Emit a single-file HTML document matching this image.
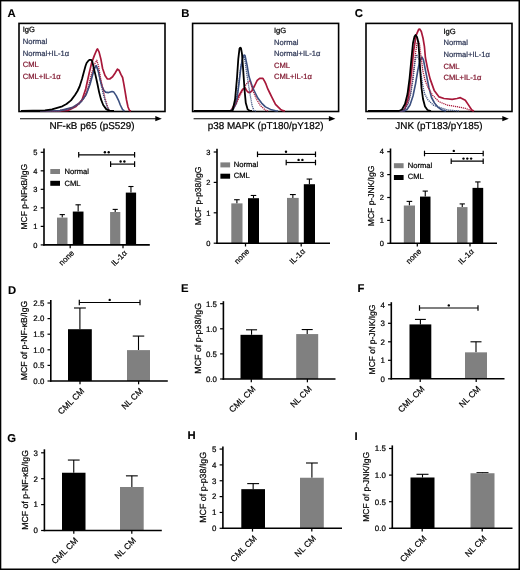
<!DOCTYPE html>
<html><head><meta charset="utf-8"><style>
html,body{margin:0;padding:0;background:#fff;}
svg{display:block;font-family:"Liberation Sans", sans-serif;filter:blur(0.3px);text-rendering:geometricPrecision;}
</style></head><body>
<svg width="520" height="570" viewBox="0 0 520 570">
<rect width="520" height="570" fill="#fff"/>
<rect x="0" y="0" width="1.3" height="570" fill="#000"/>
<rect x="0" y="0" width="520" height="1.4" fill="#000"/>
<rect x="518.5" y="0" width="1.5" height="570" fill="#000"/>
<rect x="0" y="568.5" width="520" height="1.5" fill="#000"/>
<text x="7.6" y="16.8" font-size="11.3" text-anchor="start" font-weight="bold" fill="#000" stroke="#000" stroke-width="0.1" >A</text>
<text x="181.3" y="16.7" font-size="11.3" text-anchor="start" font-weight="bold" fill="#000" stroke="#000" stroke-width="0.1" >B</text>
<text x="354.8" y="16.7" font-size="11.3" text-anchor="start" font-weight="bold" fill="#000" stroke="#000" stroke-width="0.1" >C</text>
<text x="7.9" y="294.0" font-size="11.3" text-anchor="start" font-weight="bold" fill="#000" stroke="#000" stroke-width="0.1" >D</text>
<text x="181.1" y="292.0" font-size="11.3" text-anchor="start" font-weight="bold" fill="#000" stroke="#000" stroke-width="0.1" >E</text>
<text x="357.6" y="292.0" font-size="11.3" text-anchor="start" font-weight="bold" fill="#000" stroke="#000" stroke-width="0.1" >F</text>
<text x="7.3" y="441.7" font-size="11.3" text-anchor="start" font-weight="bold" fill="#000" stroke="#000" stroke-width="0.1" >G</text>
<text x="187.4" y="439.2" font-size="11.3" text-anchor="start" font-weight="bold" fill="#000" stroke="#000" stroke-width="0.1" >H</text>
<text x="354.6" y="439.5" font-size="11.3" text-anchor="start" font-weight="bold" fill="#000" stroke="#000" stroke-width="0.1" >I</text>
<rect x="19.0" y="23.4" width="146.0" height="88.1" fill="none" stroke="#000" stroke-width="1.6"/>
<path d="M40.0,111.0 L60.0,110.8 L68.0,110.4 L76.0,106.5 L82.0,100.0 L85.7,89.0 L89.1,73.5 L91.7,62.8 L94.3,55.6 L96.9,49.5 L97.6,49.0 L99.1,52.1 L100.9,59.1 L102.6,68.5 L105.0,75.6 L107.4,79.0 L109.7,79.0 L112.6,76.8 L115.0,73.2 L117.4,69.1 L119.1,70.3 L120.9,74.4 L122.6,77.5 L123.8,83.8 L125.0,90.9 L126.5,100.0 L128.0,107.0 L129.5,110.5 L131.0,111.0" fill="none" stroke="#a8183a" stroke-width="1.7" stroke-linejoin="round"/>
<path d="M40.0,111.0 L60.0,110.6 L72.0,107.6 L80.0,102.6 L86.0,95.0 L90.0,84.5 L93.0,73.5 L95.0,67.5 L96.2,65.6 L98.5,72.0 L100.3,80.3 L102.1,86.2 L103.8,90.3 L105.6,92.1 L108.5,92.6 L112.1,91.5 L113.8,92.1 L116.2,95.6 L118.5,100.3 L120.3,105.0 L122.6,109.7 L124.5,111.0" fill="none" stroke="#3b4f7f" stroke-width="1.6" stroke-linejoin="round"/>
<path d="M50.0,111.0 L64.0,110.3 L72.0,107.8 L80.0,103.0 L85.0,96.0 L88.5,86.0 L91.5,74.0 L94.0,65.0 L96.8,60.3 L98.5,66.0 L100.0,75.0 L101.5,82.6 L103.2,90.0 L105.0,97.9 L107.4,106.2 L109.1,110.3 L111.0,111.0" fill="none" stroke="#a8183a" stroke-width="1.3" stroke-linejoin="round" stroke-dasharray="1.2,0.8"/>
<path d="M50.0,111.0 L64.0,110.3 L72.0,108.0 L80.0,103.5 L85.0,97.0 L88.5,88.0 L91.5,77.0 L94.0,68.5 L96.2,65.3 L97.8,69.0 L99.5,77.0 L101.2,85.0 L103.0,93.0 L105.0,100.5 L107.0,106.5 L109.0,110.3 L111.0,111.0" fill="none" stroke="#3b4f7f" stroke-width="1.3" stroke-linejoin="round" stroke-dasharray="1.2,0.8"/>
<path d="M21.0,111.0 L45.0,110.4 L52.0,109.3 L58.0,107.6 L62.3,106.3 L66.5,104.0 L71.0,100.4 L75.0,95.0 L77.5,91.0 L79.6,86.5 L82.0,79.0 L84.0,71.5 L85.5,66.0 L86.6,63.0 L88.0,61.2 L89.4,59.9 L91.1,59.8 L92.3,61.5 L93.8,68.3 L95.6,75.6 L97.4,83.8 L99.1,92.1 L100.9,99.1 L103.2,105.0 L106.2,109.1 L109.7,110.9 L114.0,111.0" fill="none" stroke="#000" stroke-width="1.8" stroke-linejoin="round"/>
<text x="22.7" y="32.4" font-size="7.6" text-anchor="start" font-weight="normal" fill="#000" stroke="#000" stroke-width="0.22" >IgG</text>
<text x="22.7" y="44.0" font-size="7.6" text-anchor="start" font-weight="normal" fill="#2e3756" stroke="#2e3756" stroke-width="0.22" >Normal</text>
<text x="22.7" y="55.6" font-size="7.6" text-anchor="start" font-weight="normal" fill="#2e3756" stroke="#2e3756" stroke-width="0.22" >Normal+IL-1α</text>
<text x="22.7" y="67.2" font-size="7.6" text-anchor="start" font-weight="normal" fill="#801830" stroke="#801830" stroke-width="0.22" >CML</text>
<text x="22.7" y="78.8" font-size="7.6" text-anchor="start" font-weight="normal" fill="#801830" stroke="#801830" stroke-width="0.22" >CML+IL-1α</text>
<line x1="20.0" y1="118.7" x2="159.0" y2="118.7" stroke="#000" stroke-width="1.1"/>
<path d="M155.3,116.10000000000001 L161.8,118.7 L155.3,121.3 Z" fill="#000"/>
<text x="92.0" y="128.8" font-size="9.9" text-anchor="middle" font-weight="normal" fill="#000" stroke="#000" stroke-width="0.22" >NF-κB p65 (pS529)</text>
<rect x="192.6" y="23.4" width="146.0" height="88.1" fill="none" stroke="#000" stroke-width="1.6"/>
<path d="M194.0,111.0 L229.0,111.0 L231.3,110.5 L235.1,103.1 L238.9,95.6 L242.7,89.2 L245.2,88.0 L246.5,90.5 L248.4,92.4 L250.3,92.4 L252.1,90.5 L254.7,85.5 L257.2,80.4 L259.7,78.3 L262.9,78.3 L264.8,81.7 L266.0,84.2 L267.9,89.2 L269.8,93.0 L271.7,96.8 L273.6,100.6 L275.5,104.4 L278.0,106.9 L280.6,109.4 L283.1,110.7 L285.0,111.0" fill="none" stroke="#a8183a" stroke-width="1.7" stroke-linejoin="round"/>
<path d="M194.0,111.0 L230.0,111.0 L233.0,109.5 L236.4,103.1 L238.9,84.2 L240.8,67.8 L242.7,57.7 L244.0,55.0 L245.0,55.5 L247.1,65.3 L249.0,76.6 L250.3,80.4 L252.8,88.0 L255.3,93.0 L257.8,98.1 L261.6,103.1 L265.4,106.9 L270.5,109.4 L275.5,110.7 L278.0,111.0" fill="none" stroke="#3b4f7f" stroke-width="1.6" stroke-linejoin="round"/>
<path d="M194.0,111.0 L230.0,111.0 L233.0,109.0 L236.0,104.0 L239.0,97.5 L242.0,91.5 L245.0,86.0 L247.5,82.5 L249.6,81.0 L251.2,85.0 L252.8,90.5 L256.6,99.3 L260.4,105.7 L265.4,110.1 L268.0,111.0" fill="none" stroke="#a8183a" stroke-width="1.3" stroke-linejoin="round" stroke-dasharray="1.2,0.8"/>
<path d="M194.0,111.0 L230.0,111.0 L233.0,108.5 L236.0,101.0 L238.0,90.0 L240.0,73.0 L242.0,60.0 L243.9,56.4 L245.2,62.0 L246.5,71.6 L248.4,84.2 L250.3,95.6 L252.1,105.7 L254.0,110.7 L256.0,111.0" fill="none" stroke="#3b4f7f" stroke-width="1.3" stroke-linejoin="round" stroke-dasharray="1.2,0.8"/>
<path d="M194.0,111.0 L230.0,111.0 L232.6,110.5 L235.1,99.3 L237.0,77.9 L238.3,58.9 L239.5,48.6 L240.3,47.6 L241.0,48.2 L242.0,53.9 L243.3,71.6 L244.6,90.5 L245.8,103.1 L247.7,109.4 L249.6,110.8 L252.0,111.0" fill="none" stroke="#000" stroke-width="1.8" stroke-linejoin="round"/>
<text x="274.0" y="33.0" font-size="7.6" text-anchor="start" font-weight="normal" fill="#000" stroke="#000" stroke-width="0.22" >IgG</text>
<text x="274.0" y="44.6" font-size="7.6" text-anchor="start" font-weight="normal" fill="#2e3756" stroke="#2e3756" stroke-width="0.22" >Normal</text>
<text x="274.0" y="56.2" font-size="7.6" text-anchor="start" font-weight="normal" fill="#2e3756" stroke="#2e3756" stroke-width="0.22" >Normal+IL-1α</text>
<text x="274.0" y="67.8" font-size="7.6" text-anchor="start" font-weight="normal" fill="#801830" stroke="#801830" stroke-width="0.22" >CML</text>
<text x="274.0" y="79.4" font-size="7.6" text-anchor="start" font-weight="normal" fill="#801830" stroke="#801830" stroke-width="0.22" >CML+IL-1α</text>
<line x1="193.6" y1="118.7" x2="332.6" y2="118.7" stroke="#000" stroke-width="1.1"/>
<path d="M328.90000000000003,116.10000000000001 L335.40000000000003,118.7 L328.90000000000003,121.3 Z" fill="#000"/>
<text x="265.6" y="128.8" font-size="9.9" text-anchor="middle" font-weight="normal" fill="#000" stroke="#000" stroke-width="0.22" >p38 MAPK (pT180/pY182)</text>
<rect x="366.0" y="23.4" width="146.0" height="88.1" fill="none" stroke="#000" stroke-width="1.6"/>
<path d="M368.0,111.0 L401.0,111.0 L403.0,110.3 L404.8,109.0 L408.1,98.5 L411.3,74.0 L413.8,49.5 L416.3,34.8 L418.7,29.3 L419.7,29.0 L421.3,31.5 L423.0,38.0 L424.4,46.3 L425.4,57.7 L427.7,69.1 L430.1,78.9 L434.2,90.4 L439.1,96.9 L444.0,98.5 L452.2,99.4 L457.0,98.5 L460.4,97.7 L465.3,100.2 L468.6,105.1 L471.8,110.0 L474.0,111.0" fill="none" stroke="#a8183a" stroke-width="1.7" stroke-linejoin="round"/>
<path d="M368.0,111.0 L404.0,111.0 L407.0,109.5 L410.0,105.0 L413.0,96.0 L415.5,84.0 L417.7,71.0 L419.5,62.0 L421.8,57.0 L423.5,60.0 L425.0,68.0 L427.0,78.0 L429.0,88.0 L431.5,97.5 L434.5,103.0 L438.5,107.7 L442.0,110.0 L446.0,111.0" fill="none" stroke="#3b4f7f" stroke-width="1.6" stroke-linejoin="round"/>
<path d="M368.0,111.0 L402.0,111.0 L405.0,109.0 L408.0,103.5 L410.5,93.0 L413.0,76.0 L415.3,55.0 L417.0,43.0 L418.2,41.0 L419.5,44.0 L421.0,56.0 L422.8,70.7 L425.0,80.0 L427.7,87.0 L432.6,95.2 L439.1,101.8 L447.3,105.1 L457.1,106.7 L465.3,108.3 L471.8,110.8 L474.0,111.0" fill="none" stroke="#a8183a" stroke-width="1.3" stroke-linejoin="round" stroke-dasharray="1.2,0.8"/>
<path d="M368.0,111.0 L402.0,111.0 L405.0,109.0 L408.0,104.0 L410.5,95.0 L413.0,80.0 L415.0,62.0 L416.5,54.6 L418.5,58.0 L420.5,70.0 L422.5,84.0 L424.6,93.8 L428.0,100.0 L433.8,105.4 L440.0,107.5 L447.7,110.0 L459.0,111.0" fill="none" stroke="#3b4f7f" stroke-width="1.3" stroke-linejoin="round" stroke-dasharray="1.2,0.8"/>
<path d="M368.0,111.0 L399.0,111.0 L402.0,109.5 L405.0,104.0 L407.5,94.0 L409.6,78.0 L411.5,58.0 L413.0,43.0 L414.5,36.5 L415.6,35.0 L417.0,37.0 L418.3,42.0 L419.3,55.0 L420.3,72.0 L421.5,88.0 L423.0,99.0 L425.0,106.5 L427.5,110.0 L431.0,111.0" fill="none" stroke="#000" stroke-width="1.8" stroke-linejoin="round"/>
<text x="443.5" y="33.8" font-size="7.6" text-anchor="start" font-weight="normal" fill="#000" stroke="#000" stroke-width="0.22" >IgG</text>
<text x="443.5" y="45.4" font-size="7.6" text-anchor="start" font-weight="normal" fill="#2e3756" stroke="#2e3756" stroke-width="0.22" >Normal</text>
<text x="443.5" y="57.0" font-size="7.6" text-anchor="start" font-weight="normal" fill="#2e3756" stroke="#2e3756" stroke-width="0.22" >Normal+IL-1α</text>
<text x="443.5" y="68.6" font-size="7.6" text-anchor="start" font-weight="normal" fill="#801830" stroke="#801830" stroke-width="0.22" >CML</text>
<text x="443.5" y="80.2" font-size="7.6" text-anchor="start" font-weight="normal" fill="#801830" stroke="#801830" stroke-width="0.22" >CML+IL-1α</text>
<line x1="367.0" y1="118.7" x2="506.0" y2="118.7" stroke="#000" stroke-width="1.1"/>
<path d="M502.3,116.10000000000001 L508.8,118.7 L502.3,121.3 Z" fill="#000"/>
<text x="439.0" y="128.8" font-size="9.9" text-anchor="middle" font-weight="normal" fill="#000" stroke="#000" stroke-width="0.22" >JNK (pT183/pY185)</text>
<line x1="62.25" y1="217.60152" x2="62.25" y2="214.60128" stroke="#000" stroke-width="1.1"/>
<line x1="59.625" y1="214.60128" x2="64.875" y2="214.60128" stroke="#000" stroke-width="1.1"/>
<rect x="57.0" y="217.60152" width="10.5" height="27.298480000000012" fill="#808080"/>
<line x1="78.15" y1="211.56400000000002" x2="78.15" y2="204.8042" stroke="#000" stroke-width="1.1"/>
<line x1="75.47500000000001" y1="204.8042" x2="80.825" y2="204.8042" stroke="#000" stroke-width="1.1"/>
<rect x="72.8" y="211.56400000000002" width="10.700000000000003" height="33.335999999999984" fill="#000"/>
<line x1="115.19999999999999" y1="212.00848000000002" x2="115.19999999999999" y2="209.39716" stroke="#000" stroke-width="1.1"/>
<line x1="112.64999999999999" y1="209.39716" x2="117.74999999999999" y2="209.39716" stroke="#000" stroke-width="1.1"/>
<rect x="110.1" y="212.00848000000002" width="10.200000000000003" height="32.891519999999986" fill="#808080"/>
<line x1="130.95" y1="192.59952" x2="130.95" y2="186.50644" stroke="#000" stroke-width="1.1"/>
<line x1="128.375" y1="186.50644" x2="133.52499999999998" y2="186.50644" stroke="#000" stroke-width="1.1"/>
<rect x="125.8" y="192.59952" width="10.299999999999997" height="52.30047999999999" fill="#000"/>
<line x1="44.0" y1="148.5" x2="44.0" y2="245.6" stroke="#000" stroke-width="1.6"/>
<line x1="43.2" y1="244.9" x2="149.8" y2="244.9" stroke="#000" stroke-width="1.6"/>
<line x1="40.7" y1="244.9" x2="44.0" y2="244.9" stroke="#000" stroke-width="1.2"/>
<text x="37.5" y="247.6" font-size="7.5" text-anchor="end" font-weight="normal" fill="#000" stroke="#000" stroke-width="0.22" >0</text>
<line x1="40.7" y1="226.38" x2="44.0" y2="226.38" stroke="#000" stroke-width="1.2"/>
<text x="37.5" y="229.08" font-size="7.5" text-anchor="end" font-weight="normal" fill="#000" stroke="#000" stroke-width="0.22" >1</text>
<line x1="40.7" y1="207.86" x2="44.0" y2="207.86" stroke="#000" stroke-width="1.2"/>
<text x="37.5" y="210.56" font-size="7.5" text-anchor="end" font-weight="normal" fill="#000" stroke="#000" stroke-width="0.22" >2</text>
<line x1="40.7" y1="189.34" x2="44.0" y2="189.34" stroke="#000" stroke-width="1.2"/>
<text x="37.5" y="192.04" font-size="7.5" text-anchor="end" font-weight="normal" fill="#000" stroke="#000" stroke-width="0.22" >3</text>
<line x1="40.7" y1="170.82" x2="44.0" y2="170.82" stroke="#000" stroke-width="1.2"/>
<text x="37.5" y="173.52" font-size="7.5" text-anchor="end" font-weight="normal" fill="#000" stroke="#000" stroke-width="0.22" >4</text>
<line x1="40.7" y1="152.3" x2="44.0" y2="152.3" stroke="#000" stroke-width="1.2"/>
<text x="37.5" y="155.0" font-size="7.5" text-anchor="end" font-weight="normal" fill="#000" stroke="#000" stroke-width="0.22" >5</text>
<line x1="70.2" y1="244.9" x2="70.2" y2="248.20000000000002" stroke="#000" stroke-width="1.25"/>
<line x1="123.0" y1="244.9" x2="123.0" y2="248.20000000000002" stroke="#000" stroke-width="1.25"/>
<text x="74.7" y="253.5" font-size="8.0" text-anchor="end" stroke="#000" stroke-width="0.22" transform="rotate(-45 74.7 253.5)">none</text>
<text x="127.5" y="253.5" font-size="8.0" text-anchor="end" stroke="#000" stroke-width="0.22" transform="rotate(-45 127.5 253.5)">IL-1α</text>
<text x="27.0" y="196.7" font-size="8.5" text-anchor="middle" stroke="#000" stroke-width="0.22" transform="rotate(-90 27.0 196.7)">MCF p-NFκB/IgG</text>
<line x1="78.7" y1="154.8" x2="134.6" y2="154.8" stroke="#000" stroke-width="1.2"/>
<line x1="78.7" y1="152.0" x2="78.7" y2="157.60000000000002" stroke="#000" stroke-width="1.2"/>
<line x1="134.6" y1="152.0" x2="134.6" y2="157.60000000000002" stroke="#000" stroke-width="1.2"/>
<circle cx="104.90" cy="152.20" r="1.2" fill="#000"/>
<circle cx="108.70" cy="152.20" r="1.2" fill="#000"/>
<line x1="110.6" y1="164.1" x2="134.6" y2="164.1" stroke="#000" stroke-width="1.2"/>
<line x1="110.6" y1="161.29999999999998" x2="110.6" y2="166.9" stroke="#000" stroke-width="1.2"/>
<line x1="134.6" y1="161.29999999999998" x2="134.6" y2="166.9" stroke="#000" stroke-width="1.2"/>
<circle cx="120.60" cy="161.50" r="1.2" fill="#000"/>
<circle cx="124.40" cy="161.50" r="1.2" fill="#000"/>
<rect x="50.3" y="169.0" width="9.7" height="5.0" fill="#808080"/>
<rect x="50.3" y="180.8" width="9.7" height="5.0" fill="#000"/>
<text x="64.5" y="174.2" font-size="7.6" text-anchor="start" font-weight="normal" fill="#000" stroke="#000" stroke-width="0.22" >Normal</text>
<text x="64.5" y="186.0" font-size="7.6" text-anchor="start" font-weight="normal" fill="#000" stroke="#000" stroke-width="0.22" >CML</text>
<line x1="236.9" y1="203.37599999999998" x2="236.9" y2="199.728" stroke="#000" stroke-width="1.1"/>
<line x1="234.10000000000002" y1="199.728" x2="239.7" y2="199.728" stroke="#000" stroke-width="1.1"/>
<rect x="231.3" y="203.37599999999998" width="11.199999999999989" height="39.82400000000001" fill="#808080"/>
<line x1="253.5" y1="198.208" x2="253.5" y2="195.47199999999998" stroke="#000" stroke-width="1.1"/>
<line x1="250.75" y1="195.47199999999998" x2="256.25" y2="195.47199999999998" stroke="#000" stroke-width="1.1"/>
<rect x="248.0" y="198.208" width="11.0" height="44.99199999999999" fill="#000"/>
<line x1="292.85" y1="197.904" x2="292.85" y2="194.56" stroke="#000" stroke-width="1.1"/>
<line x1="289.925" y1="194.56" x2="295.77500000000003" y2="194.56" stroke="#000" stroke-width="1.1"/>
<rect x="287.0" y="197.904" width="11.699999999999989" height="45.29599999999999" fill="#808080"/>
<line x1="309.4" y1="184.224" x2="309.4" y2="179.05599999999998" stroke="#000" stroke-width="1.1"/>
<line x1="306.59999999999997" y1="179.05599999999998" x2="312.2" y2="179.05599999999998" stroke="#000" stroke-width="1.1"/>
<rect x="303.8" y="184.224" width="11.199999999999989" height="58.976" fill="#000"/>
<line x1="217.0" y1="148.7" x2="217.0" y2="243.89999999999998" stroke="#000" stroke-width="1.6"/>
<line x1="216.2" y1="243.2" x2="330.0" y2="243.2" stroke="#000" stroke-width="1.6"/>
<line x1="213.7" y1="243.2" x2="217.0" y2="243.2" stroke="#000" stroke-width="1.2"/>
<text x="210.5" y="245.9" font-size="7.5" text-anchor="end" font-weight="normal" fill="#000" stroke="#000" stroke-width="0.22" >0</text>
<line x1="213.7" y1="212.79999999999998" x2="217.0" y2="212.79999999999998" stroke="#000" stroke-width="1.2"/>
<text x="210.5" y="215.5" font-size="7.5" text-anchor="end" font-weight="normal" fill="#000" stroke="#000" stroke-width="0.22" >1</text>
<line x1="213.7" y1="182.39999999999998" x2="217.0" y2="182.39999999999998" stroke="#000" stroke-width="1.2"/>
<text x="210.5" y="185.1" font-size="7.5" text-anchor="end" font-weight="normal" fill="#000" stroke="#000" stroke-width="0.22" >2</text>
<line x1="213.7" y1="152.0" x2="217.0" y2="152.0" stroke="#000" stroke-width="1.2"/>
<text x="210.5" y="154.7" font-size="7.5" text-anchor="end" font-weight="normal" fill="#000" stroke="#000" stroke-width="0.22" >3</text>
<line x1="245.5" y1="243.2" x2="245.5" y2="246.5" stroke="#000" stroke-width="1.25"/>
<line x1="301.2" y1="243.2" x2="301.2" y2="246.5" stroke="#000" stroke-width="1.25"/>
<text x="250.0" y="251.8" font-size="8.0" text-anchor="end" stroke="#000" stroke-width="0.22" transform="rotate(-45 250.0 251.8)">none</text>
<text x="305.7" y="251.8" font-size="8.0" text-anchor="end" stroke="#000" stroke-width="0.22" transform="rotate(-45 305.7 251.8)">IL-1α</text>
<text x="200.6" y="195.9" font-size="8.5" text-anchor="middle" stroke="#000" stroke-width="0.22" transform="rotate(-90 200.6 195.9)">MCF p-p38/IgG</text>
<line x1="257.5" y1="154.3" x2="315.5" y2="154.3" stroke="#000" stroke-width="1.2"/>
<line x1="257.5" y1="151.5" x2="257.5" y2="157.10000000000002" stroke="#000" stroke-width="1.2"/>
<line x1="315.5" y1="151.5" x2="315.5" y2="157.10000000000002" stroke="#000" stroke-width="1.2"/>
<circle cx="286.00" cy="151.70" r="1.2" fill="#000"/>
<line x1="286.2" y1="162.5" x2="315.5" y2="162.5" stroke="#000" stroke-width="1.2"/>
<line x1="286.2" y1="159.7" x2="286.2" y2="165.3" stroke="#000" stroke-width="1.2"/>
<line x1="315.5" y1="159.7" x2="315.5" y2="165.3" stroke="#000" stroke-width="1.2"/>
<circle cx="298.60" cy="159.90" r="1.2" fill="#000"/>
<circle cx="302.40" cy="159.90" r="1.2" fill="#000"/>
<rect x="220.4" y="162.4" width="9.7" height="5.0" fill="#808080"/>
<rect x="220.4" y="173.7" width="9.7" height="5.0" fill="#000"/>
<text x="233.70000000000002" y="167.1" font-size="7.6" text-anchor="start" font-weight="normal" fill="#000" stroke="#000" stroke-width="0.22" >Normal</text>
<text x="233.70000000000002" y="178.39999999999998" font-size="7.6" text-anchor="start" font-weight="normal" fill="#000" stroke="#000" stroke-width="0.22" >CML</text>
<line x1="409.4" y1="205.51500000000001" x2="409.4" y2="201.39300000000003" stroke="#000" stroke-width="1.1"/>
<line x1="406.59999999999997" y1="201.39300000000003" x2="412.2" y2="201.39300000000003" stroke="#000" stroke-width="1.1"/>
<rect x="403.8" y="205.51500000000001" width="11.199999999999989" height="37.785" fill="#808080"/>
<line x1="425.25" y1="196.584" x2="425.25" y2="191.08800000000002" stroke="#000" stroke-width="1.1"/>
<line x1="422.625" y1="191.08800000000002" x2="427.875" y2="191.08800000000002" stroke="#000" stroke-width="1.1"/>
<rect x="420.0" y="196.584" width="10.5" height="46.71600000000001" fill="#000"/>
<line x1="462.25" y1="207.118" x2="462.25" y2="203.912" stroke="#000" stroke-width="1.1"/>
<line x1="459.625" y1="203.912" x2="464.875" y2="203.912" stroke="#000" stroke-width="1.1"/>
<rect x="457.0" y="207.118" width="10.5" height="36.182000000000016" fill="#808080"/>
<line x1="477.85" y1="187.882" x2="477.85" y2="181.928" stroke="#000" stroke-width="1.1"/>
<line x1="475.175" y1="181.928" x2="480.52500000000003" y2="181.928" stroke="#000" stroke-width="1.1"/>
<rect x="472.5" y="187.882" width="10.699999999999989" height="55.418000000000006" fill="#000"/>
<line x1="390.5" y1="148.5" x2="390.5" y2="244.0" stroke="#000" stroke-width="1.6"/>
<line x1="389.7" y1="243.3" x2="497.0" y2="243.3" stroke="#000" stroke-width="1.6"/>
<line x1="387.2" y1="243.3" x2="390.5" y2="243.3" stroke="#000" stroke-width="1.2"/>
<text x="384.0" y="246.0" font-size="7.5" text-anchor="end" font-weight="normal" fill="#000" stroke="#000" stroke-width="0.22" >0</text>
<line x1="387.2" y1="220.4" x2="390.5" y2="220.4" stroke="#000" stroke-width="1.2"/>
<text x="384.0" y="223.1" font-size="7.5" text-anchor="end" font-weight="normal" fill="#000" stroke="#000" stroke-width="0.22" >1</text>
<line x1="387.2" y1="197.5" x2="390.5" y2="197.5" stroke="#000" stroke-width="1.2"/>
<text x="384.0" y="200.2" font-size="7.5" text-anchor="end" font-weight="normal" fill="#000" stroke="#000" stroke-width="0.22" >2</text>
<line x1="387.2" y1="174.60000000000002" x2="390.5" y2="174.60000000000002" stroke="#000" stroke-width="1.2"/>
<text x="384.0" y="177.3" font-size="7.5" text-anchor="end" font-weight="normal" fill="#000" stroke="#000" stroke-width="0.22" >3</text>
<line x1="387.2" y1="151.70000000000002" x2="390.5" y2="151.70000000000002" stroke="#000" stroke-width="1.2"/>
<text x="384.0" y="154.4" font-size="7.5" text-anchor="end" font-weight="normal" fill="#000" stroke="#000" stroke-width="0.22" >4</text>
<line x1="417.3" y1="243.3" x2="417.3" y2="246.60000000000002" stroke="#000" stroke-width="1.25"/>
<line x1="470.0" y1="243.3" x2="470.0" y2="246.60000000000002" stroke="#000" stroke-width="1.25"/>
<text x="421.8" y="251.9" font-size="8.0" text-anchor="end" stroke="#000" stroke-width="0.22" transform="rotate(-45 421.8 251.9)">none</text>
<text x="474.5" y="251.9" font-size="8.0" text-anchor="end" stroke="#000" stroke-width="0.22" transform="rotate(-45 474.5 251.9)">IL-1α</text>
<text x="374.4" y="195.9" font-size="8.5" text-anchor="middle" stroke="#000" stroke-width="0.22" transform="rotate(-90 374.4 195.9)">MCF p-JNK/IgG</text>
<line x1="424.5" y1="153.5" x2="483.2" y2="153.5" stroke="#000" stroke-width="1.2"/>
<line x1="424.5" y1="150.7" x2="424.5" y2="156.3" stroke="#000" stroke-width="1.2"/>
<line x1="483.2" y1="150.7" x2="483.2" y2="156.3" stroke="#000" stroke-width="1.2"/>
<circle cx="453.80" cy="150.90" r="1.2" fill="#000"/>
<line x1="451.2" y1="161.2" x2="483.2" y2="161.2" stroke="#000" stroke-width="1.2"/>
<line x1="451.2" y1="158.39999999999998" x2="451.2" y2="164.0" stroke="#000" stroke-width="1.2"/>
<line x1="483.2" y1="158.39999999999998" x2="483.2" y2="164.0" stroke="#000" stroke-width="1.2"/>
<circle cx="463.50" cy="158.60" r="1.2" fill="#000"/>
<circle cx="467.30" cy="158.60" r="1.2" fill="#000"/>
<circle cx="471.10" cy="158.60" r="1.2" fill="#000"/>
<rect x="393.9" y="163.2" width="9.7" height="5.0" fill="#808080"/>
<rect x="393.9" y="175.0" width="9.7" height="5.0" fill="#000"/>
<text x="407.79999999999995" y="167.6" font-size="7.6" text-anchor="start" font-weight="normal" fill="#000" stroke="#000" stroke-width="0.22" >Normal</text>
<text x="407.79999999999995" y="179.4" font-size="7.6" text-anchor="start" font-weight="normal" fill="#000" stroke="#000" stroke-width="0.22" >CML</text>
<line x1="79.9" y1="329.208" x2="79.9" y2="307.992" stroke="#000" stroke-width="1.1"/>
<line x1="73.95" y1="307.992" x2="85.85000000000001" y2="307.992" stroke="#000" stroke-width="1.1"/>
<rect x="68.0" y="329.208" width="23.799999999999997" height="51.79199999999997" fill="#000"/>
<line x1="138.5" y1="350.112" x2="138.5" y2="336.072" stroke="#000" stroke-width="1.1"/>
<line x1="132.75" y1="336.072" x2="144.25" y2="336.072" stroke="#000" stroke-width="1.1"/>
<rect x="127.0" y="350.112" width="23.0" height="30.887999999999977" fill="#808080"/>
<line x1="50.8" y1="300.0" x2="50.8" y2="381.7" stroke="#000" stroke-width="1.6"/>
<line x1="50.0" y1="381.0" x2="167.8" y2="381.0" stroke="#000" stroke-width="1.6"/>
<line x1="47.5" y1="381.0" x2="50.8" y2="381.0" stroke="#000" stroke-width="1.2"/>
<text x="44.3" y="383.84" font-size="7.9" text-anchor="end" font-weight="normal" fill="#000" stroke="#000" stroke-width="0.22" >0.0</text>
<line x1="47.5" y1="365.4" x2="50.8" y2="365.4" stroke="#000" stroke-width="1.2"/>
<text x="44.3" y="368.24" font-size="7.9" text-anchor="end" font-weight="normal" fill="#000" stroke="#000" stroke-width="0.22" >0.5</text>
<line x1="47.5" y1="349.8" x2="50.8" y2="349.8" stroke="#000" stroke-width="1.2"/>
<text x="44.3" y="352.64" font-size="7.9" text-anchor="end" font-weight="normal" fill="#000" stroke="#000" stroke-width="0.22" >1.0</text>
<line x1="47.5" y1="334.2" x2="50.8" y2="334.2" stroke="#000" stroke-width="1.2"/>
<text x="44.3" y="337.04" font-size="7.9" text-anchor="end" font-weight="normal" fill="#000" stroke="#000" stroke-width="0.22" >1.5</text>
<line x1="47.5" y1="318.6" x2="50.8" y2="318.6" stroke="#000" stroke-width="1.2"/>
<text x="44.3" y="321.44" font-size="7.9" text-anchor="end" font-weight="normal" fill="#000" stroke="#000" stroke-width="0.22" >2.0</text>
<line x1="47.5" y1="303.0" x2="50.8" y2="303.0" stroke="#000" stroke-width="1.2"/>
<text x="44.3" y="305.84" font-size="7.9" text-anchor="end" font-weight="normal" fill="#000" stroke="#000" stroke-width="0.22" >2.5</text>
<line x1="80.0" y1="381.0" x2="80.0" y2="384.3" stroke="#000" stroke-width="1.25"/>
<line x1="138.6" y1="381.0" x2="138.6" y2="384.3" stroke="#000" stroke-width="1.25"/>
<text x="84.8" y="391.6" font-size="8.5" text-anchor="end" stroke="#000" stroke-width="0.22" transform="rotate(-45 84.8 391.6)">CML CM</text>
<text x="143.4" y="391.6" font-size="8.5" text-anchor="end" stroke="#000" stroke-width="0.22" transform="rotate(-45 143.4 391.6)">NL CM</text>
<text x="27.0" y="340.5" font-size="8.7" text-anchor="middle" stroke="#000" stroke-width="0.22" transform="rotate(-90 27.0 340.5)">MCF of p-NF-κB/IgG</text>
<line x1="79.3" y1="302.5" x2="140.0" y2="302.5" stroke="#000" stroke-width="1.2"/>
<line x1="79.3" y1="299.7" x2="79.3" y2="305.3" stroke="#000" stroke-width="1.2"/>
<line x1="140.0" y1="299.7" x2="140.0" y2="305.3" stroke="#000" stroke-width="1.2"/>
<circle cx="109.70" cy="299.90" r="1.2" fill="#000"/>
<line x1="251.55" y1="334.824" x2="251.55" y2="329.804" stroke="#000" stroke-width="1.1"/>
<line x1="246.025" y1="329.804" x2="257.07500000000005" y2="329.804" stroke="#000" stroke-width="1.1"/>
<rect x="240.5" y="334.824" width="22.100000000000023" height="44.17599999999999" fill="#000"/>
<line x1="307.2" y1="334.071" x2="307.2" y2="329.553" stroke="#000" stroke-width="1.1"/>
<line x1="301.7" y1="329.553" x2="312.7" y2="329.553" stroke="#000" stroke-width="1.1"/>
<rect x="296.2" y="334.071" width="22.0" height="44.928999999999974" fill="#808080"/>
<line x1="223.4" y1="301.2" x2="223.4" y2="379.7" stroke="#000" stroke-width="1.6"/>
<line x1="222.6" y1="379.0" x2="335.5" y2="379.0" stroke="#000" stroke-width="1.6"/>
<line x1="220.1" y1="379.0" x2="223.4" y2="379.0" stroke="#000" stroke-width="1.2"/>
<text x="216.9" y="381.84" font-size="7.9" text-anchor="end" font-weight="normal" fill="#000" stroke="#000" stroke-width="0.22" >0.0</text>
<line x1="220.1" y1="353.9" x2="223.4" y2="353.9" stroke="#000" stroke-width="1.2"/>
<text x="216.9" y="356.74" font-size="7.9" text-anchor="end" font-weight="normal" fill="#000" stroke="#000" stroke-width="0.22" >0.5</text>
<line x1="220.1" y1="328.8" x2="223.4" y2="328.8" stroke="#000" stroke-width="1.2"/>
<text x="216.9" y="331.64" font-size="7.9" text-anchor="end" font-weight="normal" fill="#000" stroke="#000" stroke-width="0.22" >1.0</text>
<line x1="220.1" y1="303.7" x2="223.4" y2="303.7" stroke="#000" stroke-width="1.2"/>
<text x="216.9" y="306.54" font-size="7.9" text-anchor="end" font-weight="normal" fill="#000" stroke="#000" stroke-width="0.22" >1.5</text>
<line x1="251.3" y1="379.0" x2="251.3" y2="382.3" stroke="#000" stroke-width="1.25"/>
<line x1="307.4" y1="379.0" x2="307.4" y2="382.3" stroke="#000" stroke-width="1.25"/>
<text x="256.1" y="389.6" font-size="8.5" text-anchor="end" stroke="#000" stroke-width="0.22" transform="rotate(-45 256.1 389.6)">CML CM</text>
<text x="312.2" y="389.6" font-size="8.5" text-anchor="end" stroke="#000" stroke-width="0.22" transform="rotate(-45 312.2 389.6)">NL CM</text>
<text x="200.9" y="338.3" font-size="8.85" text-anchor="middle" stroke="#000" stroke-width="0.22" transform="rotate(-90 200.9 338.3)">MCF of p-p38/IgG</text>
<line x1="420.4" y1="324.41" x2="420.4" y2="319.415" stroke="#000" stroke-width="1.1"/>
<line x1="414.95" y1="319.415" x2="425.84999999999997" y2="319.415" stroke="#000" stroke-width="1.1"/>
<rect x="409.5" y="324.41" width="21.80000000000001" height="54.389999999999986" fill="#000"/>
<line x1="476.0" y1="352.345" x2="476.0" y2="341.8" stroke="#000" stroke-width="1.1"/>
<line x1="470.5" y1="341.8" x2="481.5" y2="341.8" stroke="#000" stroke-width="1.1"/>
<rect x="465.0" y="352.345" width="22.0" height="26.454999999999984" fill="#808080"/>
<line x1="391.3" y1="302.2" x2="391.3" y2="379.5" stroke="#000" stroke-width="1.6"/>
<line x1="390.5" y1="378.8" x2="504.5" y2="378.8" stroke="#000" stroke-width="1.6"/>
<line x1="388.0" y1="378.8" x2="391.3" y2="378.8" stroke="#000" stroke-width="1.2"/>
<text x="384.8" y="381.64" font-size="7.9" text-anchor="end" font-weight="normal" fill="#000" stroke="#000" stroke-width="0.22" >0</text>
<line x1="388.0" y1="360.3" x2="391.3" y2="360.3" stroke="#000" stroke-width="1.2"/>
<text x="384.8" y="363.14" font-size="7.9" text-anchor="end" font-weight="normal" fill="#000" stroke="#000" stroke-width="0.22" >1</text>
<line x1="388.0" y1="341.8" x2="391.3" y2="341.8" stroke="#000" stroke-width="1.2"/>
<text x="384.8" y="344.64" font-size="7.9" text-anchor="end" font-weight="normal" fill="#000" stroke="#000" stroke-width="0.22" >2</text>
<line x1="388.0" y1="323.3" x2="391.3" y2="323.3" stroke="#000" stroke-width="1.2"/>
<text x="384.8" y="326.14" font-size="7.9" text-anchor="end" font-weight="normal" fill="#000" stroke="#000" stroke-width="0.22" >3</text>
<line x1="388.0" y1="304.8" x2="391.3" y2="304.8" stroke="#000" stroke-width="1.2"/>
<text x="384.8" y="307.64" font-size="7.9" text-anchor="end" font-weight="normal" fill="#000" stroke="#000" stroke-width="0.22" >4</text>
<line x1="420.2" y1="378.8" x2="420.2" y2="382.1" stroke="#000" stroke-width="1.25"/>
<line x1="476.2" y1="378.8" x2="476.2" y2="382.1" stroke="#000" stroke-width="1.25"/>
<text x="425.0" y="389.4" font-size="8.5" text-anchor="end" stroke="#000" stroke-width="0.22" transform="rotate(-45 425.0 389.4)">CML CM</text>
<text x="481.0" y="389.4" font-size="8.5" text-anchor="end" stroke="#000" stroke-width="0.22" transform="rotate(-45 481.0 389.4)">NL CM</text>
<text x="375.0" y="339.5" font-size="8.5" text-anchor="middle" stroke="#000" stroke-width="0.22" transform="rotate(-90 375.0 339.5)">MCF of p-JNK/IgG</text>
<line x1="419.5" y1="308.0" x2="478.0" y2="308.0" stroke="#000" stroke-width="1.2"/>
<line x1="419.5" y1="305.2" x2="419.5" y2="310.8" stroke="#000" stroke-width="1.2"/>
<line x1="478.0" y1="305.2" x2="478.0" y2="310.8" stroke="#000" stroke-width="1.2"/>
<circle cx="448.80" cy="305.40" r="1.2" fill="#000"/>
<line x1="73.75" y1="472.743" x2="73.75" y2="460.052" stroke="#000" stroke-width="1.1"/>
<line x1="67.875" y1="460.052" x2="79.625" y2="460.052" stroke="#000" stroke-width="1.1"/>
<rect x="62.0" y="472.743" width="23.5" height="57.757000000000005" fill="#000"/>
<line x1="131.85" y1="486.988" x2="131.85" y2="475.851" stroke="#000" stroke-width="1.1"/>
<line x1="125.925" y1="475.851" x2="137.77499999999998" y2="475.851" stroke="#000" stroke-width="1.1"/>
<rect x="120.0" y="486.988" width="23.69999999999999" height="43.512" fill="#808080"/>
<line x1="44.4" y1="449.3" x2="44.4" y2="531.2" stroke="#000" stroke-width="1.6"/>
<line x1="43.6" y1="530.5" x2="161.8" y2="530.5" stroke="#000" stroke-width="1.6"/>
<line x1="41.1" y1="530.5" x2="44.4" y2="530.5" stroke="#000" stroke-width="1.2"/>
<text x="37.9" y="533.34" font-size="7.9" text-anchor="end" font-weight="normal" fill="#000" stroke="#000" stroke-width="0.22" >0</text>
<line x1="41.1" y1="504.6" x2="44.4" y2="504.6" stroke="#000" stroke-width="1.2"/>
<text x="37.9" y="507.44" font-size="7.9" text-anchor="end" font-weight="normal" fill="#000" stroke="#000" stroke-width="0.22" >1</text>
<line x1="41.1" y1="478.7" x2="44.4" y2="478.7" stroke="#000" stroke-width="1.2"/>
<text x="37.9" y="481.54" font-size="7.9" text-anchor="end" font-weight="normal" fill="#000" stroke="#000" stroke-width="0.22" >2</text>
<line x1="41.1" y1="452.8" x2="44.4" y2="452.8" stroke="#000" stroke-width="1.2"/>
<text x="37.9" y="455.64" font-size="7.9" text-anchor="end" font-weight="normal" fill="#000" stroke="#000" stroke-width="0.22" >3</text>
<line x1="73.8" y1="530.5" x2="73.8" y2="533.8" stroke="#000" stroke-width="1.25"/>
<line x1="131.8" y1="530.5" x2="131.8" y2="533.8" stroke="#000" stroke-width="1.25"/>
<text x="78.6" y="541.1" font-size="8.5" text-anchor="end" stroke="#000" stroke-width="0.22" transform="rotate(-45 78.6 541.1)">CML CM</text>
<text x="136.6" y="541.1" font-size="8.5" text-anchor="end" stroke="#000" stroke-width="0.22" transform="rotate(-45 136.6 541.1)">NL CM</text>
<text x="28.2" y="489.9" font-size="8.7" text-anchor="middle" stroke="#000" stroke-width="0.22" transform="rotate(-90 28.2 489.9)">MCF of p-NF-κB/IgG</text>
<line x1="253.15" y1="489.15049999999997" x2="253.15" y2="483.60299999999995" stroke="#000" stroke-width="1.1"/>
<line x1="247.22500000000002" y1="483.60299999999995" x2="259.075" y2="483.60299999999995" stroke="#000" stroke-width="1.1"/>
<rect x="241.3" y="489.15049999999997" width="23.69999999999999" height="39.14949999999999" fill="#000"/>
<line x1="311.9" y1="477.73849999999993" x2="311.9" y2="462.99799999999993" stroke="#000" stroke-width="1.1"/>
<line x1="305.95" y1="462.99799999999993" x2="317.84999999999997" y2="462.99799999999993" stroke="#000" stroke-width="1.1"/>
<rect x="300.0" y="477.73849999999993" width="23.80000000000001" height="50.561500000000024" fill="#808080"/>
<line x1="222.9" y1="446.4" x2="222.9" y2="529.0" stroke="#000" stroke-width="1.6"/>
<line x1="222.1" y1="528.3" x2="342.0" y2="528.3" stroke="#000" stroke-width="1.6"/>
<line x1="219.6" y1="528.3" x2="222.9" y2="528.3" stroke="#000" stroke-width="1.2"/>
<text x="216.4" y="531.14" font-size="7.9" text-anchor="end" font-weight="normal" fill="#000" stroke="#000" stroke-width="0.22" >0</text>
<line x1="219.6" y1="512.4499999999999" x2="222.9" y2="512.4499999999999" stroke="#000" stroke-width="1.2"/>
<text x="216.4" y="515.29" font-size="7.9" text-anchor="end" font-weight="normal" fill="#000" stroke="#000" stroke-width="0.22" >1</text>
<line x1="219.6" y1="496.59999999999997" x2="222.9" y2="496.59999999999997" stroke="#000" stroke-width="1.2"/>
<text x="216.4" y="499.44" font-size="7.9" text-anchor="end" font-weight="normal" fill="#000" stroke="#000" stroke-width="0.22" >2</text>
<line x1="219.6" y1="480.74999999999994" x2="222.9" y2="480.74999999999994" stroke="#000" stroke-width="1.2"/>
<text x="216.4" y="483.59" font-size="7.9" text-anchor="end" font-weight="normal" fill="#000" stroke="#000" stroke-width="0.22" >3</text>
<line x1="219.6" y1="464.9" x2="222.9" y2="464.9" stroke="#000" stroke-width="1.2"/>
<text x="216.4" y="467.74" font-size="7.9" text-anchor="end" font-weight="normal" fill="#000" stroke="#000" stroke-width="0.22" >4</text>
<line x1="219.6" y1="449.04999999999995" x2="222.9" y2="449.04999999999995" stroke="#000" stroke-width="1.2"/>
<text x="216.4" y="451.89" font-size="7.9" text-anchor="end" font-weight="normal" fill="#000" stroke="#000" stroke-width="0.22" >5</text>
<line x1="252.5" y1="528.3" x2="252.5" y2="531.5999999999999" stroke="#000" stroke-width="1.25"/>
<line x1="311.8" y1="528.3" x2="311.8" y2="531.5999999999999" stroke="#000" stroke-width="1.25"/>
<text x="257.3" y="538.9" font-size="8.5" text-anchor="end" stroke="#000" stroke-width="0.22" transform="rotate(-45 257.3 538.9)">CML CM</text>
<text x="316.6" y="538.9" font-size="8.5" text-anchor="end" stroke="#000" stroke-width="0.22" transform="rotate(-45 316.6 538.9)">NL CM</text>
<text x="206.5" y="487.3" font-size="8.9" text-anchor="middle" stroke="#000" stroke-width="0.22" transform="rotate(-90 206.5 487.3)">MCF of p-p38/IgG</text>
<line x1="422.5" y1="477.49399999999997" x2="422.5" y2="474.30199999999996" stroke="#000" stroke-width="1.1"/>
<line x1="416.5" y1="474.30199999999996" x2="428.5" y2="474.30199999999996" stroke="#000" stroke-width="1.1"/>
<rect x="410.5" y="477.49399999999997" width="24.0" height="50.80599999999998" fill="#000"/>
<line x1="482.5" y1="473.23799999999994" x2="482.5" y2="472.70599999999996" stroke="#000" stroke-width="1.1"/>
<line x1="476.5" y1="472.70599999999996" x2="488.5" y2="472.70599999999996" stroke="#000" stroke-width="1.1"/>
<rect x="470.5" y="473.23799999999994" width="24.0" height="55.06200000000001" fill="#808080"/>
<line x1="392.3" y1="445.4" x2="392.3" y2="529.0" stroke="#000" stroke-width="1.6"/>
<line x1="391.5" y1="528.3" x2="512.5" y2="528.3" stroke="#000" stroke-width="1.6"/>
<line x1="389.0" y1="528.3" x2="392.3" y2="528.3" stroke="#000" stroke-width="1.2"/>
<text x="385.8" y="531.14" font-size="7.9" text-anchor="end" font-weight="normal" fill="#000" stroke="#000" stroke-width="0.22" >0.0</text>
<line x1="389.0" y1="501.69999999999993" x2="392.3" y2="501.69999999999993" stroke="#000" stroke-width="1.2"/>
<text x="385.8" y="504.54" font-size="7.9" text-anchor="end" font-weight="normal" fill="#000" stroke="#000" stroke-width="0.22" >0.5</text>
<line x1="389.0" y1="475.09999999999997" x2="392.3" y2="475.09999999999997" stroke="#000" stroke-width="1.2"/>
<text x="385.8" y="477.94" font-size="7.9" text-anchor="end" font-weight="normal" fill="#000" stroke="#000" stroke-width="0.22" >1.0</text>
<line x1="389.0" y1="448.49999999999994" x2="392.3" y2="448.49999999999994" stroke="#000" stroke-width="1.2"/>
<text x="385.8" y="451.34" font-size="7.9" text-anchor="end" font-weight="normal" fill="#000" stroke="#000" stroke-width="0.22" >1.5</text>
<line x1="422.2" y1="528.3" x2="422.2" y2="531.5999999999999" stroke="#000" stroke-width="1.25"/>
<line x1="482.2" y1="528.3" x2="482.2" y2="531.5999999999999" stroke="#000" stroke-width="1.25"/>
<text x="427.0" y="538.9" font-size="8.5" text-anchor="end" stroke="#000" stroke-width="0.22" transform="rotate(-45 427.0 538.9)">CML CM</text>
<text x="487.0" y="538.9" font-size="8.5" text-anchor="end" stroke="#000" stroke-width="0.22" transform="rotate(-45 487.0 538.9)">NL CM</text>
<text x="368.8" y="486.8" font-size="8.5" text-anchor="middle" stroke="#000" stroke-width="0.22" transform="rotate(-90 368.8 486.8)">MCF of p-JNK/IgG</text>
</svg>
</body></html>
